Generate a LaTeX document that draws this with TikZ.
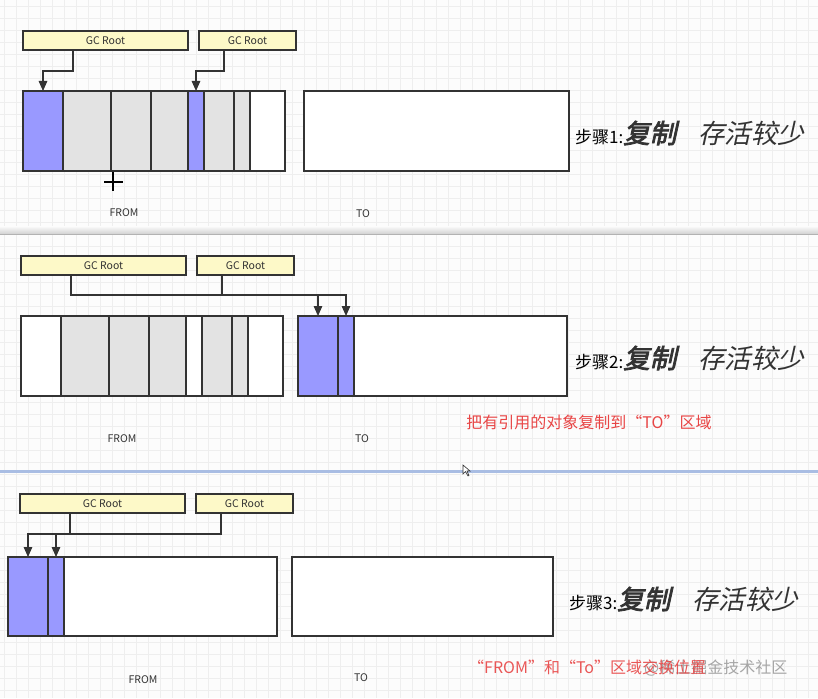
\documentclass[tikz,border=0pt]{standalone}
\usepackage{fontspec}
\setmainfont{Noto Sans CJK SC}
\newfontfamily\cjkbi[FakeSlant=0.22,FakeBold=3]{Noto Sans CJK SC}
\newfontfamily\cjki[FakeSlant=0.22]{Noto Sans CJK SC}
\usetikzlibrary{arrows.meta}
\definecolor{blu}{HTML}{9999FF}
\definecolor{gry}{HTML}{E3E3E3}
\definecolor{yel}{HTML}{FDF9C8}
\definecolor{edge}{HTML}{333333}
\definecolor{redt}{HTML}{E84545}
\definecolor{gridc}{HTML}{EEEEEE}
\definecolor{bgc}{HTML}{FCFCFC}
\definecolor{sepb}{HTML}{A9BDE3}
\tikzset{
  cell/.style={draw=edge, line width=1.2pt, inner sep=0pt, outer sep=0pt, anchor=north west, minimum height=80pt},
  bcell/.style={cell, fill=blu},
  gcell/.style={cell, fill=gry},
  wcell/.style={cell, fill=white},
  gcroot/.style={draw=edge, line width=1.2pt, fill=yel, inner sep=0pt, outer sep=0pt, anchor=north west, minimum height=19pt, font=\fontsize{10.5}{10.5}\selectfont, text=edge},
  arr/.style={draw=edge, line width=1.3pt, -{Triangle[length=10pt,width=8.5pt]}},
  ln/.style={draw=edge, line width=1.3pt},
  lab/.style={font=\fontsize{10.5}{10.5}\selectfont, text=edge},
  steptxt/.style={anchor=west, inner sep=0pt, text=black},
  redtxt/.style={text=redt, inner sep=0pt, font=\fontsize{16}{16}\selectfont},
}
\newcommand{\stepline}[1]{{\fontsize{17}{17}\selectfont 步骤#1:}{\cjkbi\fontsize{26.5}{26.5}\selectfont\color{edge}复制}\hspace{22pt}{\cjki\fontsize{26.5}{26.5}\selectfont\color{edge}存活较少}}
\begin{document}
\begin{tikzpicture}[x=1pt,y=-1pt]
\useasboundingbox (0,0) rectangle (818,698);
\fill[bgc] (0,0) rectangle (818,698);
\foreach \i in {4,16,...,816} \draw[gridc, line width=0.6pt] (\i,0) -- (\i,698);
\foreach \j in {6,18,...,696} \draw[gridc, line width=0.6pt] (0,\j) -- (818,\j);
% separators
\shade[top color=bgc, bottom color=black!18] (0,226) rectangle (818,234);
\draw[black!30, line width=1pt] (0,234) -- (818,234);
\fill[sepb] (0,470) rectangle (818,473);

% ---------- panel 1 ----------
\node[gcroot, minimum width=165pt] (g1a) at (23,31) {GC Root};
\node[gcroot, minimum width=97pt] (g1b) at (199,31) {GC Root};
\node[bcell, minimum width=40pt] (c1a) at (23,91) {};
\node[gcell, minimum width=48pt] (c1b) at (63,91) {};
\node[gcell, minimum width=40pt] (c1c) at (111,91) {};
\node[gcell, minimum width=37pt] (c1d) at (151,91) {};
\node[bcell, minimum width=16pt] (c1e) at (188,91) {};
\node[gcell, minimum width=30pt] (c1f) at (204,91) {};
\node[gcell, minimum width=16pt] (c1g) at (234,91) {};
\node[wcell, minimum width=35pt] (c1h) at (250,91) {};
\node[wcell, minimum width=265pt] (t1) at (304,91) {};
\draw[arr] ([xshift=50pt]g1a.south west) |- ([yshift=20pt]c1a.north) -- (c1a.north);
\draw[arr] ([xshift=25pt]g1b.south west) |- ([yshift=20pt]c1e.north) -- (c1e.north);
\draw[black, line width=1.4pt] (104,182) -- (123,182) (113,172) -- (113,191);
\node[lab] (from1) at (124,213) {FROM};
\node[lab] (to1) at (363,214) {TO};
\node[steptxt] (s1) at (575,133) {\stepline{1}};

% ---------- panel 2 ----------
\node[gcroot, minimum width=165pt] (g2a) at (21,256) {GC Root};
\node[gcroot, minimum width=97pt] (g2b) at (197,256) {GC Root};
\node[wcell, minimum width=40pt] (f2a) at (21,316) {};
\node[gcell, minimum width=48pt] (f2b) at (61,316) {};
\node[gcell, minimum width=40pt] (f2c) at (109,316) {};
\node[gcell, minimum width=37pt] (f2d) at (149,316) {};
\node[wcell, minimum width=16pt] (f2e) at (186,316) {};
\node[gcell, minimum width=30pt] (f2f) at (202,316) {};
\node[gcell, minimum width=16pt] (f2g) at (232,316) {};
\node[wcell, minimum width=35pt] (f2h) at (248,316) {};
\node[bcell, minimum width=40pt] (t2a) at (298,316) {};
\node[bcell, minimum width=16pt] (t2b) at (338,316) {};
\node[wcell, minimum width=213pt] (t2c) at (354,316) {};
\draw[arr] ([xshift=50pt]g2a.south west) |- ([yshift=21pt]t2b.north) -- (t2b.north);
\draw[ln] ([xshift=25pt]g2b.south west) |- ([yshift=21pt]t2a.north);
\draw[arr] ([yshift=21pt]t2a.north) -- (t2a.north);
\node[lab] (from2) at (122,439) {FROM};
\node[lab] (to2) at (362,439) {TO};
\node[steptxt] (s2) at (575,358) {\stepline{2}};
\node[redtxt] (r2) at (589,422) {把有引用的对象复制到“TO”区域};
\draw[edge, line width=0.6pt, fill=white] (463,465) -- (463,474) -- (465.5,471.5) -- (468,476) -- (469,475.5) -- (467,471) -- (470,471) -- cycle;

% ---------- panel 3 ----------
\node[gcroot, minimum width=165pt] (g3a) at (20,494) {GC Root};
\node[gcroot, minimum width=97pt] (g3b) at (196,494) {GC Root};
\node[bcell, minimum width=40pt, minimum height=79pt] (f3a) at (8,557) {};
\node[bcell, minimum width=16pt, minimum height=79pt] (f3b) at (48,557) {};
\node[wcell, minimum width=213pt, minimum height=79pt] (f3c) at (64,557) {};
\node[wcell, minimum width=261pt, minimum height=79pt] (t3) at (292,557) {};
\draw[arr] ([xshift=25pt]g3b.south west) |- ([yshift=23pt]f3a.north) -- (f3a.north);
\draw[arr] ([xshift=50pt]g3a.south west) |- ([yshift=23pt]f3b.north) -- (f3b.north);
\node[lab] (from3) at (143,680) {FROM};
\node[lab] (to3) at (361,678) {TO};
\node[steptxt] (s3) at (569,599) {\stepline{3}};
\node[text=black!35, anchor=west, inner sep=0pt, font=\fontsize{16}{16}\selectfont] (wm) at (644,668) {@稀土掘金技术社区};
\node[redtxt, anchor=west, opacity=0.9] (r3) at (468,667) {“FROM”和“To”区域交换位置};
\end{tikzpicture}
\end{document}
